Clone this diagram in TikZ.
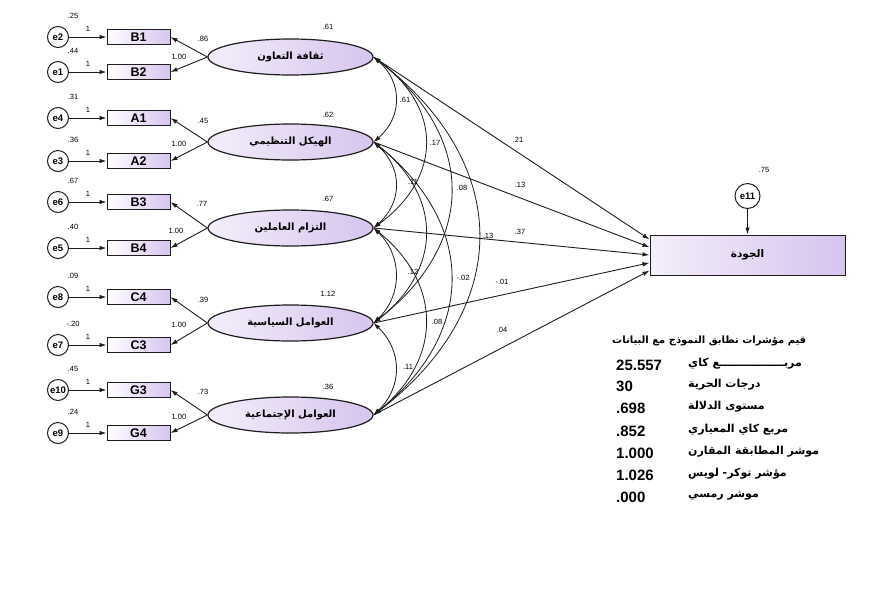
\documentclass[tikz,border=0pt]{standalone}
\usepackage{fontspec}
\setmainfont{Liberation Sans}
\newfontfamily\arabicfont[Script=Arabic]{DejaVu Sans}
\TeXXeTstate=1
\usetikzlibrary{arrows.meta,shapes.geometric,calc}
\definecolor{lav}{HTML}{D6C4EE}
\definecolor{lavlight}{HTML}{F4EEFA}
\definecolor{ink}{HTML}{1E1E1E}
\newcommand{\artxt}[1]{{\arabicfont\beginR #1\endR}}
% numbers that begin with a point or a minus sign: keep the sign in its own box
\newcommand{\dn}[1]{\mbox{.}#1}
\newcommand{\ndn}[1]{\mbox{-}\mbox{.}#1}
\begin{document}
\begin{tikzpicture}[x=1pt,y=-1pt,
  obs/.style={draw=ink, line width=1pt, rectangle, minimum width=63pt, minimum height=15pt,
    left color=white, right color=lav, inner sep=0pt, font=\bfseries\fontsize{12.5}{12.5}\selectfont},
  lat/.style={draw=ink, line width=1.2pt, ellipse, minimum width=165pt, minimum height=36pt,
    left color=lavlight, right color=lav, inner sep=0pt, font=\bfseries\fontsize{10}{10}\selectfont},
  err/.style={draw=ink, line width=1pt, circle, minimum size=21pt, inner sep=0pt,
    fill=white, font=\bfseries\fontsize{9.5}{9.5}\selectfont},
  small/.style={font=\fontsize{7.5}{7.5}\selectfont, inner sep=0pt},
  reg/.style={draw=ink, line width=0.9pt, -{Latex[length=7pt,width=4.5pt]}},
  cov/.style={draw=ink, line width=0.8pt, {Latex[length=7pt,width=4.5pt]}-{Latex[length=7pt,width=4.5pt]}},
  tnum/.style={anchor=west, inner sep=0pt, font=\bfseries\fontsize{15}{15}\selectfont},
  tlab/.style={anchor=west, inner sep=0pt, font=\bfseries\fontsize{11}{12}\selectfont}
]
\useasboundingbox (0,0) rectangle (881,598);
\fill[white] (0,0) rectangle (881,598);

% latent variables
\node[lat] (E1) at (290.5,57)  {\artxt{ثقافة التعاون}};
\node[lat] (E2) at (290.5,142) {\artxt{الهيكل التنظيمي}};
\node[lat] (E3) at (290.5,228) {\artxt{التزام العاملين}};
\node[lat] (E4) at (290.5,323) {\artxt{العوامل السياسية}};
\node[lat] (E5) at (290.5,415) {\artxt{العوامل الإجتماعية}};
\node[small] (v1) at (328,27)  {\dn{61}};
\node[small] (v2) at (328,115) {\dn{62}};
\node[small] (v3) at (328,199) {\dn{67}};
\node[small] (v4) at (328,294) {1.12};
\node[small] (v5) at (328,387) {\dn{36}};

% indicators and errors
\foreach \i/\r/\t/\e/\v in {1/37/B1/e2/{\dn{25}}, 2/72/B2/e1/{\dn{44}}, 3/118/A1/e4/{\dn{31}}, 4/161/A2/e3/{\dn{36}},
  5/202/B3/e6/{\dn{67}}, 6/248/B4/e5/{\dn{40}}, 7/297/C4/e8/{\dn{09}}, 8/345/C3/e7/{\ndn{20}},
  9/390/G3/e10/{\dn{45}}, 10/433/G4/e9/{\dn{24}}}{
  \node[obs] (r\i) at (138.5,\r) {\t};
  \node[err] (c\i) at (58,\r) {\e};
  \draw[reg] (c\i) -- (r\i);
  \node[small] (one\i) at (88,\r-8) {1};
  \node[small] (ev\i) at (73,\r-21) {\v};
}

% loadings
\draw[reg] (E1.west) -- (r1.east);  \draw[reg] (E1.west) -- (r2.east);
\draw[reg] (E2.west) -- (r3.east);  \draw[reg] (E2.west) -- (r4.east);
\draw[reg] (E3.west) -- (r5.east);  \draw[reg] (E3.west) -- (r6.east);
\draw[reg] (E4.west) -- (r7.east);  \draw[reg] (E4.west) -- (r8.east);
\draw[reg] (E5.west) -- (r9.east);  \draw[reg] (E5.west) -- (r10.east);
\node[small] (l1) at (203,39)  {\dn{86}}; \node[small] (m1) at (179,57)  {1.00};
\node[small] (l2) at (203,121) {\dn{45}}; \node[small] (m2) at (179,144) {1.00};
\node[small] (l3) at (202,204) {\dn{77}}; \node[small] (m3) at (176,231) {1.00};
\node[small] (l4) at (203,300) {\dn{39}}; \node[small] (m4) at (179,325) {1.00};
\node[small] (l5) at (203,392) {\dn{73}}; \node[small] (m5) at (179,417) {1.00};

% dependent variable
\node[draw=ink, line width=1pt, rectangle, minimum width=195pt, minimum height=40pt,
  left color=lavlight, right color=lav, inner sep=0pt, font=\bfseries\fontsize{10.5}{10.5}\selectfont]
  (Q) at (747.5,255) {\artxt{الجودة}};
\node[err, minimum size=25pt] (e11) at (747.5,196) {e11};
\draw[reg] (e11) -- (Q.north);
\node[small] (v11) at (764,170) {\dn{75}};

\coordinate (q1) at ($(Q.north west)!0.12!(Q.south west)$);
\coordinate (q2) at ($(Q.north west)!0.31!(Q.south west)$);
\coordinate (q3) at ($(Q.north west)!0.5!(Q.south west)$);
\coordinate (q4) at ($(Q.north west)!0.69!(Q.south west)$);
\coordinate (q5) at ($(Q.north west)!0.88!(Q.south west)$);

% covariances
\draw[cov] (E1.east) .. controls +(29,25)   and +(29,-25)   .. (E2.east);
\draw[cov] (E2.east) .. controls +(29,26)   and +(29,-26)   .. (E3.east);
\draw[cov] (E3.east) .. controls +(29,28)   and +(29,-28)   .. (E4.east);
\draw[cov] (E4.east) .. controls +(29,28)   and +(29,-28)   .. (E5.east);
\draw[cov] (E1.east) .. controls +(69,51)   and +(69,-51)   .. (E3.east);
\draw[cov] (E2.east) .. controls +(69,54)   and +(69,-54)   .. (E4.east);
\draw[cov] (E3.east) .. controls +(69,56)   and +(69,-56)   .. (E5.east);
\draw[cov] (E1.east) .. controls +(103,80)  and +(103,-80)  .. (E4.east);
\draw[cov] (E2.east) .. controls +(103,82)  and +(103,-82)  .. (E5.east);
\draw[cov] (E1.east) .. controls +(140,107) and +(140,-107) .. (E5.east);
\node[small] (k12) at (405,100) {\dn{61}};
\node[small] (k23) at (413,182) {\dn{11}};
\node[small] (k34) at (413,272) {\dn{12}};
\node[small] (k45) at (408,367) {\dn{11}};
\node[small] (k13) at (435,143) {\dn{17}};
\node[small] (k35) at (437,322) {\dn{08}};
\node[small] (k14) at (462,188) {\dn{08}};
\node[small] (k25) at (463,278) {\ndn{02}};
\node[small] (k15) at (488,236) {\dn{13}};

% regressions
\draw[reg] (E1.east) -- (q1);
\draw[reg] (E2.east) -- (q2);
\draw[reg] (E3.east) -- (q3);
\draw[reg] (E4.east) -- (q4);
\draw[reg] (E5.east) -- (q5);
\node[small] (b1) at (518,140) {\dn{21}};
\node[small] (b2) at (520,185) {\dn{13}};
\node[small] (b3) at (520,232) {\dn{37}};
\node[small] (b4) at (502,282) {\ndn{01}};
\node[small] (b5) at (502,330) {\dn{04}};

% fit indices
\node[anchor=west, inner sep=0pt, font=\bfseries\fontsize{10}{10}\selectfont] (title) at (612,341)
  {\artxt{قيم مؤشرات تطابق النموذج مع البيانات}};
\node[tnum] (n1) at (616,365) {25.557};     \node[tlab] (t1) at (688,364) {\artxt{مربـــــــــــــــــع كاي}};
\node[tnum] (n2) at (616,386) {30};         \node[tlab] (t2) at (688,385) {\artxt{درجات الحرية}};
\node[tnum] (n3) at (616,408) {\dn{698}};   \node[tlab] (t3) at (688,407) {\artxt{مستوى الدلالة}};
\node[tnum] (n4) at (616,431) {\dn{852}};   \node[tlab] (t4) at (688,430) {\artxt{مربع كاي المعياري}};
\node[tnum] (n5) at (616,453) {1.000};      \node[tlab] (t5) at (688,452) {\artxt{موشر المطابقة المقارن}};
\node[tnum] (n6) at (616,475) {1.026};      \node[tlab] (t6) at (688,474) {\artxt{مؤشر توكر- لويس}};
\node[tnum] (n7) at (616,497) {\dn{000}};   \node[tlab] (t7) at (688,496) {\artxt{موشر رمسي}};
\end{tikzpicture}
\end{document}
